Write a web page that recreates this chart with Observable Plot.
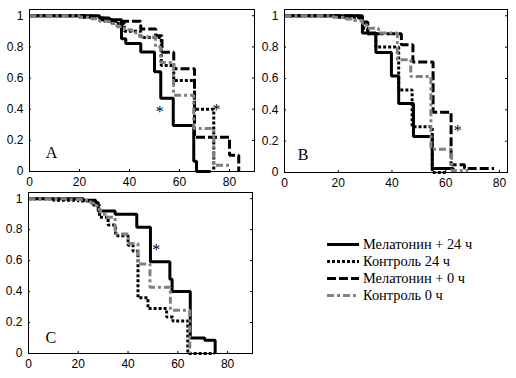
<!DOCTYPE html>
<html><head><meta charset="utf-8">
<script src="https://cdn.jsdelivr.net/npm/d3@7"></script>
<script src="https://cdn.jsdelivr.net/npm/@observablehq/plot@0.6"></script>
<style>
body{margin:0;background:#fff;}
#root{position:relative;width:516px;height:378px;overflow:hidden;background:#fff;}
.panel{position:absolute;}
#legend{position:absolute;left:327px;top:236px;font-family:"Liberation Serif","Times New Roman",serif;font-size:14.4px;color:#000;}
#legend .row{display:flex;align-items:center;height:17px;white-space:nowrap;}
#legend svg{margin-right:4px;}
</style></head><body><div id="root"></div>
<script>
// ---- axis ticks ----
const xTicks = [0, 20, 40, 60, 80];
const yTicks = [0, 0.2, 0.4, 0.6, 0.8, 1];
const yTickLabels = ["0", "0.2", "0.4", "0.6", "0.8", "1"];

// ---- series ----
const seriesNames = ["Мелатонин + 24 ч", "Контроль 24 ч", "Мелатонин + 0 ч", "Контроль 0 ч"];
const seriesColors = ["#000000", "#000000", "#000000", "#808080"];
const seriesDash = [null, "3,2", "9,3", "7,3,3,3"];
const panelLetters = ["A", "B", "C"];

// ---- Panel A (time, survival) ----
const aMel24T = [0, 28, 32, 36.8, 38.5, 44.5, 50, 52.5, 57.5, 65.7, 66.8, 72.5];
const aMel24S = [1, 0.985, 0.975, 0.853, 0.822, 0.767, 0.64, 0.47, 0.295, 0.066, 0, 0];
const aCtl24T = [0, 20, 28, 33, 38, 44.5, 52.7, 57.7, 66, 73.7];
const aCtl24S = [1, 0.99, 0.975, 0.95, 0.90, 0.86, 0.68, 0.585, 0.40, 0];
const aMel0T = [0, 25, 30, 44.5, 50.5, 53, 57.7, 66, 80, 83.7];
const aMel0S = [1, 0.985, 0.965, 0.915, 0.872, 0.765, 0.66, 0.22, 0.105, 0];
const aCtl0T = [0, 20, 24, 28, 32, 35, 38, 41, 44, 50.4, 52.5, 57.6, 65.7, 73.7, 80.4];
const aCtl0S = [1, 0.99, 0.98, 0.965, 0.95, 0.93, 0.91, 0.89, 0.865, 0.80, 0.70, 0.49, 0.276, 0.04, 0.04];
const aStarT = [52.1, 74.8];
const aStarS = [0.408, 0.423];

// ---- Panel B ----
const bMel24T = [0, 27.5, 29, 34, 39.8, 42.5, 48, 55, 62.8];
const bMel24S = [1, 0.985, 0.89, 0.765, 0.615, 0.44, 0.229, 0.025, 0];
const bCtl24T = [0, 20, 28, 29.5, 31, 34, 42.5, 47.5, 55, 60];
const bCtl24S = [1, 0.99, 0.97, 0.92, 0.885, 0.80, 0.527, 0.292, 0, 0];
const bMel0T = [0, 29, 31, 43.5, 47.8, 55.3, 62, 67, 78];
const bMel0S = [1, 0.96, 0.885, 0.815, 0.705, 0.385, 0.05, 0.025, 0.025];
const bCtl0T = [0, 18, 22, 26, 29, 30.5, 35, 42, 47, 54.5, 62.2, 68.4];
const bCtl0S = [1, 0.99, 0.98, 0.97, 0.95, 0.92, 0.89, 0.72, 0.612, 0.148, 0.013, 0.013];
const bStarT = [64.5];
const bStarS = [0.29];

// ---- Panel C ----
const cMel24T = [0, 22, 27, 28, 34.8, 43.5, 49, 56.8, 57.7, 65, 70.8, 75];
const cMel24S = [1, 0.99, 0.975, 0.92, 0.90, 0.815, 0.593, 0.48, 0.40, 0.10, 0.085, 0];
const cCtl24T = [0, 10, 20, 26, 28.5, 32, 35, 40, 42, 44, 48, 55.5, 58, 64, 74.7];
const cCtl24S = [1, 0.99, 0.985, 0.96, 0.88, 0.83, 0.76, 0.70, 0.66, 0.36, 0.29, 0.236, 0.21, 0, 0];
const cCtl0T = [0, 15, 22, 25, 27.5, 29, 31, 34.8, 40.1, 44, 48.8, 57, 64.8];
const cCtl0S = [1, 0.995, 0.99, 0.97, 0.93, 0.90, 0.88, 0.772, 0.71, 0.578, 0.428, 0.28, 0];
const cStarT = [51.3];
const cStarS = [0.695];

function rows(T, S) { return T.map((t, i) => ({t, s: S[i]})); }

const panels = [
  {left: 0, top: 0, width: 260, height: 195, mL: 29, mR: 6, mT: 9, mB: 24, xMax: 90,
   series: [rows(aMel24T, aMel24S), rows(aCtl24T, aCtl24S), rows(aMel0T, aMel0S), rows(aCtl0T, aCtl0S)],
   stars: rows(aStarT, aStarS), letter: panelLetters[0], lx: 6.5, ly: 0.12},
  {left: 255, top: 0, width: 258, height: 195, mL: 29, mR: 6, mT: 9, mB: 23, xMax: 83,
   series: [rows(bMel24T, bMel24S), rows(bCtl24T, bCtl24S), rows(bMel0T, bMel0S), rows(bCtl0T, bCtl0S)],
   stars: rows(bStarT, bStarS), letter: panelLetters[1], lx: 4.9, ly: 0.11},
  {left: 0, top: 180, width: 260, height: 198, mL: 28, mR: 8, mT: 12, mB: 25, xMax: 90,
   series: [rows(cMel24T, cMel24S), rows(cCtl24T, cCtl24S), null, rows(cCtl0T, cCtl0S)],
   stars: rows(cStarT, cStarS), letter: panelLetters[2], lx: 6.8, ly: 0.10}
];

const root = document.getElementById("root");
const serif = "'Liberation Serif','Times New Roman',serif";

for (const p of panels) {
  const lineMarks = [];
  p.series.forEach((data, i) => {
    if (!data) return;
    lineMarks.push(Plot.line(data, {
      x: "t", y: "s", curve: "step-after",
      stroke: seriesColors[i], strokeWidth: 3,
      strokeDasharray: seriesDash[i] || undefined,
      strokeLinecap: "butt", strokeLinejoin: "miter"
    }));
  });
  const xt = xTicks.filter(v => v <= p.xMax);
  const chart = Plot.plot({
    width: p.width, height: p.height,
    marginLeft: p.mL, marginRight: p.mR, marginTop: p.mT, marginBottom: p.mB,
    style: {fontFamily: "'Liberation Sans',Arial,sans-serif", fontSize: "12px", color: "#000", background: "transparent", overflow: "visible"},
    x: {domain: [0, p.xMax], ticks: xt, tickSize: 0, tickPadding: 6, label: null, tickFormat: d => String(d)},
    y: {domain: [0, 1.04], ticks: yTicks, tickSize: 0, tickPadding: 6, label: null,
        tickFormat: d => yTickLabels[yTicks.indexOf(d)]},
    marks: [
      Plot.ruleX(xt, {x: d => d, y1: 0, y2: 0.013, stroke: "#000"}),
      Plot.ruleY(yTicks, {y: d => d, x1: 0, x2: p.xMax * 0.009, stroke: "#000"}),
      Plot.ruleY(yTicks, {y: d => d, x1: p.xMax * 0.991, x2: p.xMax, stroke: "#000"}),
      ...lineMarks,
      Plot.frame({stroke: "#000", strokeWidth: 1}),
      Plot.text([p.letter], {x: () => p.lx, y: () => p.ly, text: d => d, textAnchor: "start",
        fontFamily: serif, fontSize: 16, fill: "#000"}),
      Plot.text(p.stars, {x: "t", y: "s", text: () => "*", fontFamily: serif, fontSize: 16, fill: "#000", dy: 4})
    ]
  });
  chart.classList.add("panel");
  chart.style.left = p.left + "px";
  chart.style.top = p.top + "px";
  root.appendChild(chart);
}

// legend
const legend = document.createElement("div");
legend.id = "legend";
seriesNames.forEach((name, i) => {
  const row = document.createElement("div");
  row.className = "row";
  const dash = seriesDash[i] ? ` stroke-dasharray="${seriesDash[i]}"` : "";
  row.innerHTML = `<svg width="32" height="17"><line x1="0" x2="32" y1="8.5" y2="8.5" stroke="${seriesColors[i]}" stroke-width="3"${dash}/></svg><span>${name}</span>`;
  legend.appendChild(row);
});
root.appendChild(legend);
</script>
</body></html>
